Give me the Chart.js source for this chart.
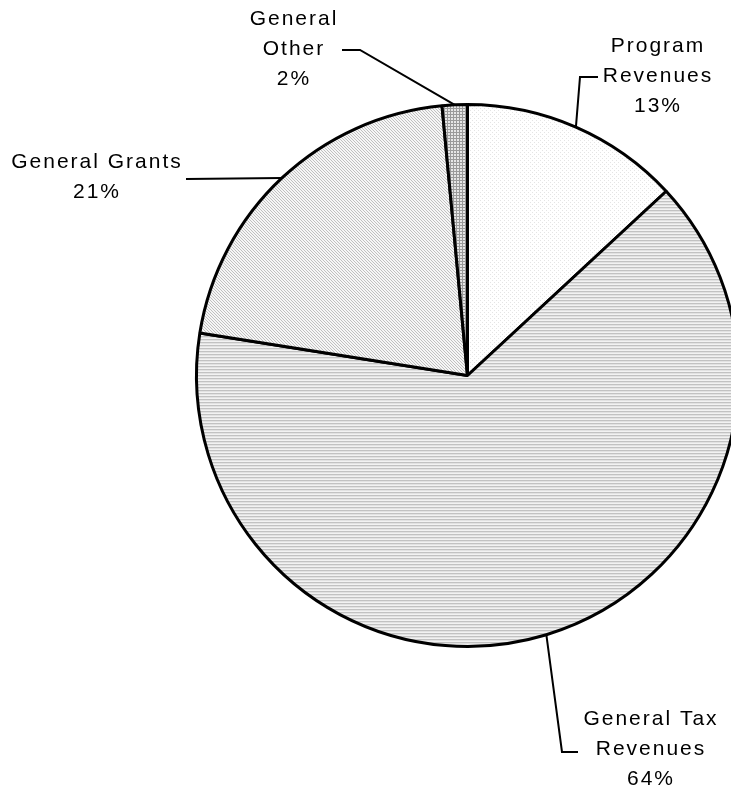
<!DOCTYPE html>
<html>
<head>
<meta charset="utf-8">
<script src="https://cdn.jsdelivr.net/npm/chart.js@4"></script>
<style>
  html, body { margin: 0; padding: 0; background: #fff; overflow: hidden; }
  #wrap { width: 760px; height: 789px; }
</style>
</head>
<body>
<div id="wrap"><canvas id="pie" width="760" height="789"></canvas></div>
<script>
// data (shares in %)
const categories = ["Program Revenues", "General Tax Revenues", "General Grants", "General Other"]
const shares = [13.1, 64.4, 21.0, 1.5]
// how each label is broken into lines
const labelLines = [
  ["Program", "Revenues"],
  ["General Tax", "Revenues"],
  ["General Grants"],
  ["General", "Other"]
]

// fill patterns (the original is a b/w print, so textures instead of colours)
function makePattern(w, h, paint){
  const c = document.createElement('canvas')
  c.width = w; c.height = h
  const g = c.getContext('2d')
  paint(g)
  return document.getElementById('pie').getContext('2d').createPattern(c, 'repeat')
}
const dots = makePattern(4, 4, g => {
  g.fillStyle = '#fff'; g.fillRect(0, 0, 4, 4)
  g.fillStyle = '#e4e4e4'; g.fillRect(0, 0, 1, 1); g.fillRect(2, 2, 1, 1)
})
const hstripes = makePattern(4, 3, g => {
  g.fillStyle = '#f2f2f2'; g.fillRect(0, 0, 4, 3)
  g.fillStyle = '#c2c2c2'; g.fillRect(0, 0, 4, 1)
  g.fillStyle = '#e2e2e2'; g.fillRect(0, 1, 4, 1)
})
const diag = makePattern(3, 3, g => {
  g.fillStyle = '#f6f6f6'; g.fillRect(0, 0, 3, 3)
  g.fillStyle = '#c0c0c0'
  g.fillRect(0, 0, 1, 1); g.fillRect(1, 1, 1, 1); g.fillRect(2, 2, 1, 1)
})
const grid = makePattern(3, 3, g => {
  g.fillStyle = '#e6e6e6'; g.fillRect(0, 0, 3, 3)
  g.fillStyle = '#9a9a9a'; g.fillRect(0, 0, 3, 1); g.fillRect(0, 0, 1, 3)
})

// where the labels sit and how the leader lines bend
const callouts = [
  { cx: 657, base: 52, via: [[580, 77], [598, 77]] },
  { cx: 650, base: 725, via: [[562, 752], [578, 752]] },
  { cx: 96, base: 168, via: [[186, 179]] },
  { cx: 293, base: 25, via: [[360, 50], [342, 50]] }
]

const calloutPlugin = {
  id: 'callouts',
  afterDraw(chart){
    const ctx = chart.ctx
    const arcs = chart.getDatasetMeta(0).data
    ctx.save()
    ctx.strokeStyle = '#000'
    ctx.lineWidth = 2
    arcs.forEach((arc, i) => {
      const c = callouts[i]
      const mid = (arc.startAngle + arc.endAngle) / 2
      const ex = arc.x + Math.cos(mid) * arc.outerRadius
      const ey = arc.y + Math.sin(mid) * arc.outerRadius
      ctx.beginPath()
      ctx.moveTo(ex, ey)
      c.via.forEach(p => ctx.lineTo(p[0], p[1]))
      ctx.stroke()

      const lines = labelLines[i].concat([Math.round(shares[i]) + '%'])
      ctx.fillStyle = '#000'
      ctx.font = '21px "Liberation Sans", Arial, sans-serif'
      ctx.letterSpacing = '2px'
      ctx.textAlign = 'center'
      ctx.textBaseline = 'alphabetic'
      lines.forEach((t, k) => ctx.fillText(t, c.cx + 1, c.base + k * 30))
    })
    ctx.restore()
  }
}

new Chart(document.getElementById('pie'), {
  type: 'pie',
  data: {
    labels: categories,
    datasets: [{
      data: shares,
      backgroundColor: [dots, hstripes, diag, grid],
      borderColor: '#000',
      borderWidth: 3
    }]
  },
  options: {
    responsive: false,
    animation: false,
    layout: { padding: { left: 195, top: 103, right: 20, bottom: 141 } },
    plugins: { legend: { display: false }, tooltip: { enabled: false } }
  },
  plugins: [calloutPlugin]
})
</script>
</body>
</html>
